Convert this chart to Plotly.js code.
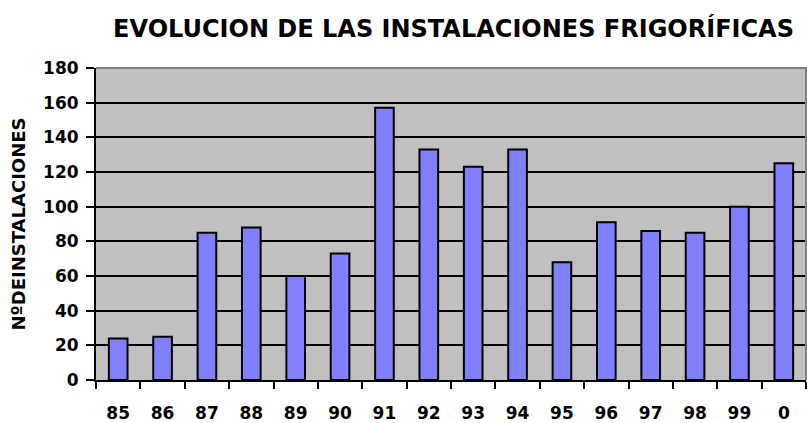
<!DOCTYPE html>
<html>
<head>
<meta charset="utf-8">
<script src="https://cdn.plot.ly/plotly-3.0.1.min.js"></script>
<style>
  html, body { margin: 0; padding: 0; background: #ffffff; }
  #chart { width: 807px; height: 423px; }
</style>
</head>
<body>
<div id="chart"></div>
<script>
// Data
const years = ['85', '86', '87', '88', '89', '90', '91', '92', '93', '94', '95', '96', '97', '98', '99', '0'];
const installations = [24, 25, 85, 88, 60, 73, 157, 133, 123, 133, 68, 91, 86, 85, 100, 125];
const yTicks = [0, 20, 40, 60, 80, 100, 120, 140, 160, 180];

const FONT = 'DejaVu Sans, Liberation Sans, Arial, sans-serif';

const trace = {
  type: 'bar',
  x: years,
  y: installations,
  marker: { color: '#8080FF', line: { color: '#000000', width: 2 } },
  hoverinfo: 'x+y',
  showlegend: false
};

const layout = {
  width: 807,
  height: 423,
  margin: { l: 96, r: 1, t: 68, b: 43, pad: 0 },
  paper_bgcolor: '#ffffff',
  plot_bgcolor: '#C0C0C0',
  bargap: 0.58,
  showlegend: false,
  title: {
    text: 'EVOLUCION DE LAS INSTALACIONES FRIGORÍFICAS',
    font: { family: FONT, size: 24, color: '#000000', weight: 'bold' },
    x: 0.562, xref: 'container', xanchor: 'center',
    y: 0.933, yref: 'container', yanchor: 'middle'
  },
  xaxis: {
    type: 'category',
    categoryorder: 'array',
    categoryarray: years,
    range: [-0.5, years.length - 0.5],
    tickson: 'boundaries',
    ticks: 'outside',
    ticklen: 7,
    tickwidth: 2,
    tickcolor: '#000000',
    showline: true,
    linecolor: '#000000',
    linewidth: 2,
    showgrid: false,
    zeroline: false,
    ticklabelstandoff: 17,
    tickfont: { family: FONT, size: 17, color: '#000000', weight: 'bold' },
    fixedrange: true
  },
  xaxis2: {
    overlaying: 'x',
    anchor: 'y',
    side: 'bottom',
    range: [-0.5, years.length - 0.5],
    tickmode: 'linear',
    tick0: -0.5,
    dtick: 1,
    ticks: 'inside',
    ticklen: 7,
    tickwidth: 2,
    tickcolor: '#000000',
    showticklabels: false,
    showgrid: false,
    showline: false,
    zeroline: false,
    fixedrange: true
  },
  yaxis: {
    range: [0, 180],
    tickmode: 'array',
    tickvals: yTicks,
    ticktext: yTicks.map(String),
    ticks: 'outside',
    ticklen: 8,
    tickwidth: 2,
    tickcolor: '#000000',
    showline: true,
    linecolor: '#000000',
    linewidth: 2,
    showgrid: true,
    gridcolor: '#000000',
    gridwidth: 2,
    zeroline: false,
    ticklabelstandoff: 4,
    tickfont: { family: FONT, size: 17, color: '#000000', weight: 'bold' },
    title: {
      text: 'NºDEINSTALACIONES',
      font: { family: FONT, size: 18, color: '#000000', weight: 'bold' },
      standoff: 13
    },
    automargin: false,
    fixedrange: true
  },
  shapes: [
    {
      type: 'path',
      xref: 'paper', yref: 'paper',
      path: 'M 0 1 L 1 1 L 1 0',
      line: { color: '#808080', width: 2 },
      layer: 'above'
    }
  ]
};

Plotly.newPlot('chart', [trace], layout, { displayModeBar: false, staticPlot: true });
</script>
</body>
</html>
